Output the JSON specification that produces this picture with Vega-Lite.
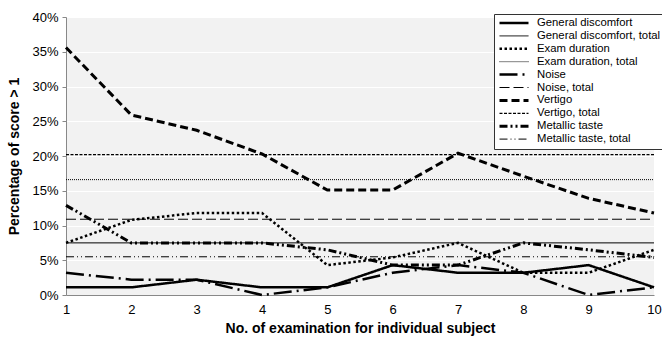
{
  "$schema": "https://vega.github.io/schema/vega-lite/v6.json",
  "width": 588,
  "height": 278,
  "autosize": {"type": "none"},
  "padding": {"left": 66, "top": 17, "right": 8, "bottom": 45},
  "config": {
    "view": {"fill": "#f2f2f2", "stroke": null},
    "font": "Liberation Sans"
  },
  "data": {
    "values": [
      {"series": "General discomfort", "exam": 1, "pct": 1.1},
      {"series": "General discomfort", "exam": 2, "pct": 1.1},
      {"series": "General discomfort", "exam": 3, "pct": 2.2},
      {"series": "General discomfort", "exam": 4, "pct": 1.1},
      {"series": "General discomfort", "exam": 5, "pct": 1.1},
      {"series": "General discomfort", "exam": 6, "pct": 4.3},
      {"series": "General discomfort", "exam": 7, "pct": 3.2},
      {"series": "General discomfort", "exam": 8, "pct": 3.2},
      {"series": "General discomfort", "exam": 9, "pct": 4.3},
      {"series": "General discomfort", "exam": 10, "pct": 1.1},
      {"series": "General discomfort, total", "exam": 1, "pct": 7.5},
      {"series": "General discomfort, total", "exam": 10, "pct": 7.5},
      {"series": "Exam duration", "exam": 1, "pct": 7.5},
      {"series": "Exam duration", "exam": 2, "pct": 10.8},
      {"series": "Exam duration", "exam": 3, "pct": 11.8},
      {"series": "Exam duration", "exam": 4, "pct": 11.8},
      {"series": "Exam duration", "exam": 5, "pct": 4.3},
      {"series": "Exam duration", "exam": 6, "pct": 5.4},
      {"series": "Exam duration", "exam": 7, "pct": 7.5},
      {"series": "Exam duration", "exam": 8, "pct": 3.2},
      {"series": "Exam duration", "exam": 9, "pct": 3.2},
      {"series": "Exam duration", "exam": 10, "pct": 6.5},
      {"series": "Exam duration, total", "exam": 1, "pct": 16.6},
      {"series": "Exam duration, total", "exam": 10, "pct": 16.6},
      {"series": "Noise", "exam": 1, "pct": 3.2},
      {"series": "Noise", "exam": 2, "pct": 2.2},
      {"series": "Noise", "exam": 3, "pct": 2.2},
      {"series": "Noise", "exam": 4, "pct": 0},
      {"series": "Noise", "exam": 5, "pct": 1.1},
      {"series": "Noise", "exam": 6, "pct": 3.2},
      {"series": "Noise", "exam": 7, "pct": 4.3},
      {"series": "Noise", "exam": 8, "pct": 3.2},
      {"series": "Noise", "exam": 9, "pct": 0},
      {"series": "Noise", "exam": 10, "pct": 1.1},
      {"series": "Noise, total", "exam": 1, "pct": 10.9},
      {"series": "Noise, total", "exam": 10, "pct": 10.9},
      {"series": "Vertigo", "exam": 1, "pct": 35.6},
      {"series": "Vertigo", "exam": 2, "pct": 25.9},
      {"series": "Vertigo", "exam": 3, "pct": 23.7},
      {"series": "Vertigo", "exam": 4, "pct": 20.3},
      {"series": "Vertigo", "exam": 5, "pct": 15.1},
      {"series": "Vertigo", "exam": 6, "pct": 15.1},
      {"series": "Vertigo", "exam": 7, "pct": 20.4},
      {"series": "Vertigo", "exam": 8, "pct": 17.1},
      {"series": "Vertigo", "exam": 9, "pct": 13.9},
      {"series": "Vertigo", "exam": 10, "pct": 11.8},
      {"series": "Vertigo, total", "exam": 1, "pct": 20.2},
      {"series": "Vertigo, total", "exam": 10, "pct": 20.2},
      {"series": "Metallic taste", "exam": 1, "pct": 12.9},
      {"series": "Metallic taste", "exam": 2, "pct": 7.5},
      {"series": "Metallic taste", "exam": 3, "pct": 7.5},
      {"series": "Metallic taste", "exam": 4, "pct": 7.5},
      {"series": "Metallic taste", "exam": 5, "pct": 6.5},
      {"series": "Metallic taste", "exam": 6, "pct": 4.3},
      {"series": "Metallic taste", "exam": 7, "pct": 4.3},
      {"series": "Metallic taste", "exam": 8, "pct": 7.5},
      {"series": "Metallic taste", "exam": 9, "pct": 6.5},
      {"series": "Metallic taste", "exam": 10, "pct": 5.4},
      {"series": "Metallic taste, total", "exam": 1, "pct": 5.5},
      {"series": "Metallic taste, total", "exam": 10, "pct": 5.5}
    ]
  },
  "mark": {"type": "line", "color": "black", "strokeCap": "butt"},
  "encoding": {
    "x": {
      "field": "exam",
      "type": "quantitative",
      "scale": {"domain": [1, 10], "nice": false, "zero": false},
      "axis": {
        "title": "No. of examination for individual subject",
        "titleFontSize": 14,
        "titleFontWeight": "bold",
        "titleColor": "black",
        "titlePadding": 5,
        "values": [1, 2, 3, 4, 5, 6, 7, 8, 9, 10],
        "labelFontSize": 13,
        "labelColor": "black",
        "labelPadding": 8,
        "ticks": false,
        "grid": false,
        "domainColor": "#888888",
        "labelFlush": false
      }
    },
    "y": {
      "field": "pct",
      "type": "quantitative",
      "scale": {"domain": [0, 40], "nice": false},
      "axis": {
        "title": "Percentage of score > 1",
        "titleFontSize": 14,
        "titleFontWeight": "bold",
        "titleColor": "black",
        "titlePadding": 10,
        "values": [0, 5, 10, 15, 20, 25, 30, 35, 40],
        "labelExpr": "datum.value + '%'",
        "labelFontSize": 13,
        "labelColor": "black",
        "labelPadding": 4,
        "tickSize": 4,
        "tickColor": "#888888",
        "domainColor": "#888888",
        "grid": true,
        "gridColor": "white",
        "gridWidth": 1.2,
        "gridOpacity": 1
      }
    },
    "strokeDash": {
      "field": "series",
      "type": "nominal",
      "scale": {
        "domain": ["General discomfort", "General discomfort, total", "Exam duration", "Exam duration, total", "Noise", "Noise, total", "Vertigo", "Vertigo, total", "Metallic taste", "Metallic taste, total"],
        "range": [[1, 0], [1, 0], [2.5, 2.5], [1, 1], [18, 5, 2, 5], [10, 4], [8, 4], [3, 1.5], [8, 3, 2, 3, 2, 3], [8, 3, 1, 3, 1, 3]]
      },
      "legend": {
        "title": null,
        "orient": "none",
        "legendX": 428,
        "legendY": -3,
        "symbolType": "stroke",
        "symbolSize": 841,
        "clipHeight": 10,
        "rowPadding": 0.9,
        "padding": 4,
        "labelFontSize": 11.3,
        "labelOffset": 7,
        "labelColor": "black",
        "fillColor": "white",
        "strokeColor": "#333333",
        "symbolStrokeColor": "black",
        "labelLimit": 200
      }
    },
    "strokeWidth": {
      "field": "series",
      "type": "nominal",
      "scale": {
        "type": "ordinal",
        "domain": ["General discomfort", "General discomfort, total", "Exam duration", "Exam duration, total", "Noise", "Noise, total", "Vertigo", "Vertigo, total", "Metallic taste", "Metallic taste, total"],
        "range": [2.5, 1, 2.5, 1, 2.5, 1, 3, 1.2, 3, 1]
      },
      "legend": {
        "title": null,
        "orient": "none",
        "legendX": 428,
        "legendY": -3,
        "symbolType": "stroke",
        "symbolSize": 841,
        "clipHeight": 10,
        "rowPadding": 0.9,
        "padding": 4,
        "labelFontSize": 11.3,
        "labelOffset": 7,
        "labelColor": "black",
        "fillColor": "white",
        "strokeColor": "#333333",
        "symbolStrokeColor": "black",
        "labelLimit": 200
      }
    }
  }
}
